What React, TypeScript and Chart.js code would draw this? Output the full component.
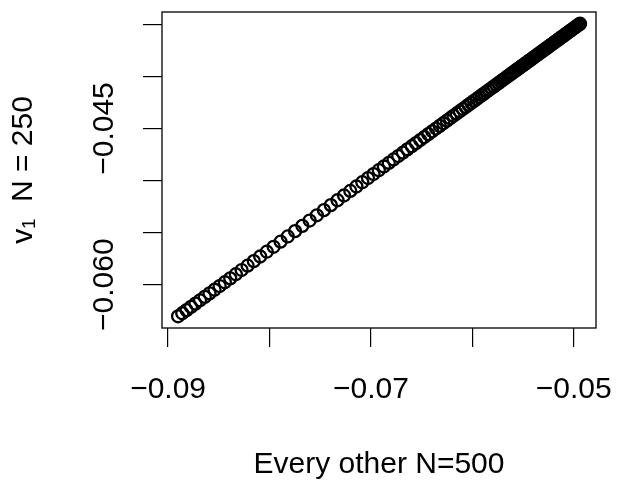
import React, { useEffect, useRef } from "react";
import { Chart, registerables } from "chart.js";

Chart.register(...registerables);

// Values (x: "Every other N=500", y: "v1 N=250")
const xValues: number[] = [
  -0.089015, -0.088601, -0.088178, -0.087744, -0.087301, -0.086848, -0.086385, -0.085912, -0.085419, -0.084917,
  -0.084404, -0.083872, -0.083321, -0.082749, -0.082158, -0.081547, -0.080917, -0.080266, -0.079596, -0.078907,
  -0.078198, -0.077478, -0.076759, -0.07604, -0.075331, -0.074631, -0.073951, -0.073291, -0.072651, -0.07203,
  -0.071429, -0.070848, -0.070286, -0.069745, -0.069222, -0.06872, -0.068237, -0.067764, -0.067301, -0.066848,
  -0.066405, -0.065971, -0.065548, -0.065134, -0.06473, -0.064336, -0.063952, -0.063577, -0.063213, -0.062858,
  -0.062513, -0.062178, -0.061853, -0.061538, -0.061232, -0.060937, -0.060651, -0.060375, -0.060099, -0.059833,
  -0.059567, -0.059311, -0.059055, -0.058809, -0.058563, -0.058326, -0.05809, -0.057863, -0.057636, -0.05742,
  -0.057203, -0.056996, -0.056789, -0.056592, -0.056395, -0.056208, -0.056021, -0.055843, -0.055666, -0.055499,
  -0.055331, -0.055173, -0.055016, -0.054858, -0.05471, -0.054563, -0.054415, -0.054267, -0.054119, -0.053971,
  -0.053824, -0.053676, -0.053528, -0.05338, -0.053233, -0.053085, -0.052937, -0.052789, -0.052641, -0.052494,
  -0.052346, -0.052198, -0.05205, -0.051903, -0.051755, -0.051607, -0.051459, -0.051311, -0.051164, -0.051016,
  -0.050868, -0.05072, -0.050573, -0.050425, -0.050277, -0.050129, -0.049981, -0.049834, -0.049686, -0.049538,
  -0.04943, -0.049371,
];

const yValues: number[] = [
  -0.063036, -0.062743, -0.062442, -0.062135, -0.061821, -0.0615, -0.061171, -0.060836, -0.060487, -0.060131,
  -0.059768, -0.05939, -0.058999, -0.058594, -0.058175, -0.057742, -0.057295, -0.056834, -0.056359, -0.05587,
  -0.055368, -0.054858, -0.054348, -0.053838, -0.053335, -0.052839, -0.052358, -0.05189, -0.051436, -0.050996,
  -0.05057, -0.050158, -0.049759, -0.049375, -0.049005, -0.048649, -0.048307, -0.047972, -0.047643, -0.047322,
  -0.047008, -0.0467, -0.0464, -0.046107, -0.04582, -0.045541, -0.045269, -0.045003, -0.044745, -0.044494,
  -0.044249, -0.044012, -0.043781, -0.043558, -0.043341, -0.043132, -0.042929, -0.042734, -0.042538, -0.042349,
  -0.042161, -0.041979, -0.041798, -0.041623, -0.041449, -0.041281, -0.041113, -0.040953, -0.040792, -0.040638,
  -0.040485, -0.040338, -0.040191, -0.040052, -0.039912, -0.039779, -0.039647, -0.039521, -0.039395, -0.039276,
  -0.039158, -0.039046, -0.038934, -0.038822, -0.038718, -0.038613, -0.038508, -0.038403, -0.038299, -0.038194,
  -0.038089, -0.037984, -0.03788, -0.037775, -0.03767, -0.037565, -0.037461, -0.037356, -0.037251, -0.037146,
  -0.037042, -0.036937, -0.036832, -0.036727, -0.036623, -0.036518, -0.036413, -0.036308, -0.036204, -0.036099,
  -0.035994, -0.035889, -0.035784, -0.03568, -0.035575, -0.03547, -0.035365, -0.035261, -0.035156, -0.035051,
  -0.034974, -0.034932,
];

const xTickValues: number[] = [-0.09, -0.08, -0.07, -0.06, -0.05];
const xTickLabels: string[] = ["\u22120.09", "", "\u22120.07", "", "\u22120.05"];
const yTickValues: number[] = [-0.06, -0.055, -0.05, -0.045, -0.04, -0.035];
const yTickLabels: string[] = ["\u22120.060", "", "", "\u22120.045", "", ""];

const xTitle = "Every other N=500";
const yTitle = "v\u2081  N = 250";

const FONT = "'Liberation Sans', Arial, Helvetica, sans-serif";

export default function App() {
  const ref = useRef<HTMLCanvasElement | null>(null);

  useEffect(() => {
    if (!ref.current) return;
    const points = xValues.map((x, i) => ({ x, y: yValues[i] }));

    const boxPlugin = {
      id: "rbox",
      afterDatasetsDraw(chart: any) {
        const { ctx, chartArea } = chart;
        ctx.save();
        ctx.strokeStyle = "#000";
        ctx.lineWidth = 1.3;
        ctx.strokeRect(chartArea.left, chartArea.top, chartArea.right - chartArea.left, chartArea.bottom - chartArea.top);
        ctx.restore();
      },
    };

    const chart = new Chart(ref.current, {
      type: "scatter",
      data: {
        datasets: [
          {
            data: points,
            pointStyle: "circle",
            pointRadius: 6.0,
            pointHoverRadius: 6.0,
            pointBorderWidth: 2.3,
            pointBorderColor: "#000",
            pointBackgroundColor: "rgba(0,0,0,0)",
            showLine: false,
          },
        ],
      },
      options: {
        animation: false,
        responsive: false,
        devicePixelRatio: 1,
        events: [],
        layout: { padding: { top: 12, right: 21, bottom: 0, left: 0 } },
        plugins: { legend: { display: false }, tooltip: { enabled: false } },
        scales: {
          x: {
            type: "linear",
            min: -0.0906,
            max: -0.0478,
            afterBuildTicks: (s: any) => {
              s.ticks = xTickValues.map((v) => ({ value: v }));
            },
            afterFit: (s: any) => {
              s.height = 157;
              s.paddingLeft = 0;
              s.paddingRight = 0;
            },
            ticks: {
              autoSkip: false,
              maxRotation: 0,
              minRotation: 0,
              padding: 25,
              color: "#000",
              font: { family: FONT, size: 30 },
              callback: (_v: any, i: number) => xTickLabels[i],
            },
            grid: {
              display: true,
              drawOnChartArea: false,
              drawTicks: true,
              tickLength: 19,
              color: "#000",
              lineWidth: 1.2,
            },
            border: { display: false },
            title: {
              display: true,
              text: xTitle,
              color: "#000",
              font: { family: FONT, size: 30 },
              padding: { top: 0, bottom: 2 },
            },
          },
          y: {
            type: "linear",
            min: -0.06416,
            max: -0.03381,
            afterBuildTicks: (s: any) => {
              s.ticks = yTickValues.map((v) => ({ value: v }));
            },
            afterFit: (s: any) => {
              s.width = 162;
              s.paddingTop = 0;
              s.paddingBottom = 0;
            },
            ticks: {
              autoSkip: false,
              minRotation: 90,
              maxRotation: 90,
              crossAlign: "center",
              padding: -8,
              color: "#000",
              font: { family: FONT, size: 30 },
              callback: (_v: any, i: number) => yTickLabels[i],
            },
            grid: {
              display: true,
              drawOnChartArea: false,
              drawTicks: true,
              tickLength: 19,
              color: "#000",
              lineWidth: 1.2,
            },
            border: { display: false },
            title: {
              display: true,
              text: yTitle,
              color: "#000",
              font: { family: FONT, size: 30 },
              padding: { top: 6, bottom: 0 },
            },
          },
        },
      },
      plugins: [boxPlugin],
    } as any);

    return () => chart.destroy();
  }, []);

  return (
    <div style={{ position: "fixed", left: 0, top: 0, width: 617, height: 485, background: "#fff" }}>
      <canvas ref={ref} width={617} height={485} style={{ display: "block" }} />
    </div>
  );
}
